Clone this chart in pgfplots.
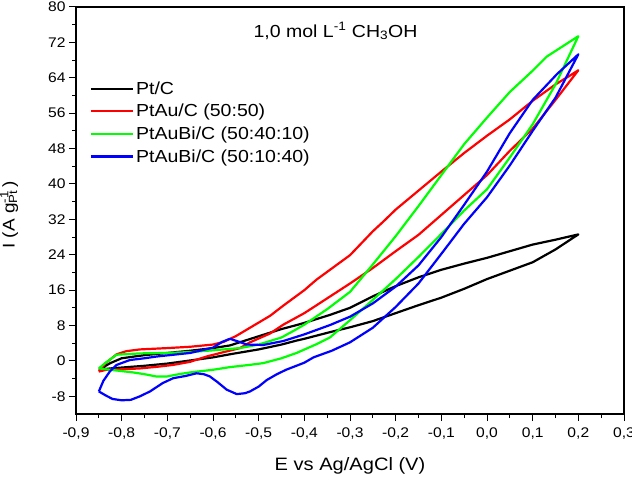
\documentclass[border=0pt]{standalone}
\usepackage{fontspec}
\setmainfont{Liberation Sans}[FakeStretch=1.12]
\usepackage{pgfplots}
\pgfplotsset{compat=1.18}

% stacked superscript/subscript in the text font
\newcommand\supsub[2]{\makebox[0pt][l]{\textsuperscript{#1}}\textsubscript{#2}}

\definecolor{cvred}{RGB}{255,0,0}
\definecolor{cvgreen}{RGB}{0,255,0}
\definecolor{cvblue}{RGB}{0,0,255}

\begin{document}
\begin{tikzpicture}
\begin{axis}[
  name=cv,
  at={(0,0)}, anchor=south west,
  scale only axis, width=548bp, height=407bp,
  xmin=-0.9, xmax=0.3, ymin=-12, ymax=80,
  axis line style={line width=1.1bp},
  tick pos=left, tick align=outside,
  major tick length=7bp, minor tick length=4bp,
  every tick/.style={black, line width=1bp},
  xtick={-0.9,-0.8,-0.7,-0.6,-0.5,-0.4,-0.3,-0.2,-0.1,0,0.1,0.2,0.3},
  xticklabels={{-0,9},{-0,8},{-0,7},{-0,6},{-0,5},{-0,4},{-0,3},{-0,2},{-0,1},{0,0},{0,1},{0,2},{0,3}},
  minor x tick num=1,
  ytick={-8,0,8,16,24,32,40,48,56,64,72,80},
  yticklabels={{-8},0,8,16,24,32,40,48,56,64,72,80},
  minor y tick num=1,
  ticklabel style={font=\fontsize{14}{16}\selectfont},
  xticklabel style={yshift=-3bp},
  xlabel={E vs Ag/AgCl (V)},
  ylabel={I (A g\supsub{-1}{Pt}\,)},
  xlabel style={font=\fontsize{18}{21}\selectfont, at={(axis description cs:0.5,-0.140)}, anchor=base},
  ylabel style={font=\fontsize{17}{20}\selectfont, at={(axis description cs:-0.122,0.489)}, anchor=center},
  legend cell align=left,
  legend style={at={(axis description cs:0.025,0.822)}, anchor=north west,
    draw=none, fill=none, font=\fontsize{17.5}{20}\selectfont,
    row sep=4.5bp, inner sep=0bp,
    /tikz/every even column/.append style={column sep=6bp}},
  legend image code/.code={\draw[#1] (0bp,0bp) -- (42bp,0bp);},
  every axis plot/.append style={line width=2.2bp, line join=round},
]

% Pt/C
\addplot[black] coordinates {
(-0.850,-2.0) (-0.825,-1.7) (-0.800,-1.5) (-0.750,-1.1) (-0.700,-0.6)
(-0.650,0.1) (-0.600,0.8) (-0.563,1.5) (-0.500,2.6) (-0.450,3.7)
(-0.417,4.6) (-0.400,5.0) (-0.344,6.5) (-0.300,7.6) (-0.250,9.0)
(-0.200,10.8) (-0.150,12.6) (-0.100,14.3) (-0.050,16.3) (0.000,18.5)
(0.050,20.4) (0.100,22.3) (0.150,25.2) (0.200,28.6)
(0.175,28.0) (0.150,27.4) (0.100,26.3) (0.050,24.8) (0.000,23.3)
(-0.050,22.0) (-0.100,20.6) (-0.150,18.9) (-0.200,16.9) (-0.250,14.6)
(-0.300,12.0) (-0.344,10.4) (-0.400,8.6) (-0.417,8.1) (-0.450,7.2)
(-0.490,5.9) (-0.563,3.5) (-0.600,2.9) (-0.650,2.3) (-0.700,1.8)
(-0.750,1.3) (-0.800,0.6) (-0.825,-0.5) (-0.850,-2.0)
};
\addlegendentry{Pt/C}

% PtAu/C (50:50)
\addplot[cvred] coordinates {
(-0.850,-2.4) (-0.833,-2.0) (-0.800,-1.9) (-0.760,-1.7) (-0.720,-1.3)
(-0.687,-0.9) (-0.650,-0.2) (-0.614,1.0) (-0.580,1.9) (-0.541,2.9)
(-0.519,4.2) (-0.475,6.2) (-0.446,8.2) (-0.400,10.8) (-0.373,12.6)
(-0.300,17.5) (-0.250,21.0) (-0.200,24.8) (-0.150,28.5) (-0.100,33.0)
(-0.050,37.5) (0.000,42.0) (0.050,47.5) (0.100,52.5) (0.150,59.0)
(0.200,65.7)
(0.180,64.4) (0.150,62.5) (0.100,58.8) (0.050,54.6) (0.000,50.9)
(-0.050,47.0) (-0.100,42.8) (-0.150,38.5) (-0.200,34.2) (-0.227,31.5)
(-0.250,29.3) (-0.300,23.9) (-0.373,18.4) (-0.400,16.0) (-0.446,12.5)
(-0.475,10.2) (-0.519,7.5) (-0.550,5.6) (-0.577,4.3) (-0.600,3.7)
(-0.650,3.2) (-0.700,2.9) (-0.760,2.6) (-0.790,2.2) (-0.811,1.5)
(-0.835,-0.5) (-0.850,-2.4)
};
\addlegendentry{PtAu/C (50:50)}

% PtAuBi/C (50:40:10)
\addplot[cvgreen] coordinates {
(-0.850,-1.7) (-0.825,-2.0) (-0.800,-2.3) (-0.775,-2.6) (-0.750,-3.0)
(-0.725,-3.5) (-0.700,-3.5) (-0.675,-3.0) (-0.650,-2.6) (-0.600,-2.0)
(-0.563,-1.4) (-0.520,-0.9) (-0.490,-0.5) (-0.450,0.6) (-0.417,1.8)
(-0.373,3.8) (-0.344,5.3) (-0.300,9.2) (-0.250,13.8) (-0.200,18.5)
(-0.150,23.5) (-0.100,28.7) (-0.050,34.0) (0.000,38.8) (0.050,46.0)
(0.100,53.5) (0.150,62.5) (0.200,73.4)
(0.167,71.2) (0.131,68.8) (0.100,65.6) (0.050,60.8) (0.000,55.0)
(-0.050,49.0) (-0.100,42.0) (-0.150,35.0) (-0.200,28.2) (-0.250,21.8)
(-0.300,15.6) (-0.350,11.7) (-0.400,8.2) (-0.420,7.0) (-0.450,5.3)
(-0.500,3.7) (-0.541,2.9) (-0.600,2.4) (-0.650,2.0) (-0.700,1.8)
(-0.760,1.7) (-0.811,1.4) (-0.835,-0.4) (-0.850,-1.7)
};
\addlegendentry{PtAuBi/C (50:40:10)}

% PtAuBi/C (50:10:40)
\addplot[cvblue] coordinates {
(-0.850,-6.9) (-0.835,-7.8) (-0.820,-8.6) (-0.800,-8.9) (-0.780,-8.8)
(-0.760,-8.0) (-0.738,-6.9) (-0.710,-5.0) (-0.687,-3.9) (-0.660,-3.4)
(-0.636,-2.8) (-0.620,-3.0) (-0.607,-3.5) (-0.590,-4.8) (-0.570,-6.5)
(-0.548,-7.5) (-0.530,-7.3) (-0.519,-6.9) (-0.500,-5.8) (-0.482,-4.3)
(-0.460,-3.0) (-0.440,-2.0) (-0.400,-0.4) (-0.380,0.8) (-0.340,2.3)
(-0.300,4.2) (-0.250,7.5) (-0.200,12.2) (-0.150,17.5) (-0.100,24.2)
(-0.050,31.0) (0.000,37.0) (0.050,44.2) (0.100,52.0) (0.150,59.5)
(0.200,69.3)
(0.153,64.8) (0.100,59.0) (0.050,51.5) (0.000,42.8) (-0.050,35.3)
(-0.100,28.0) (-0.150,21.6) (-0.200,16.8) (-0.250,13.0) (-0.300,10.0)
(-0.344,8.1) (-0.400,6.0) (-0.446,4.5) (-0.490,3.6) (-0.526,3.7)
(-0.545,4.4) (-0.563,5.0) (-0.580,4.3) (-0.600,3.0) (-0.650,1.8)
(-0.723,1.0) (-0.750,0.6) (-0.782,0.2) (-0.811,-0.9) (-0.826,-2.4)
(-0.840,-4.5) (-0.850,-6.9)
};
\addlegendentry{PtAuBi/C (50:10:40)}

\node[anchor=base west, font=\fontsize{17.5}{20}\selectfont]
  at (axis description cs:0.3175,0.926) {1,0 mol L\textsuperscript{-1} CH\textsubscript{3}OH};
\end{axis}
\pgfresetboundingbox
\path[use as bounding box] ([shift={(-76bp,-70bp)}]cv.south west) rectangle ([shift={(8bp,7bp)}]cv.north east);
\end{tikzpicture}
\end{document}
